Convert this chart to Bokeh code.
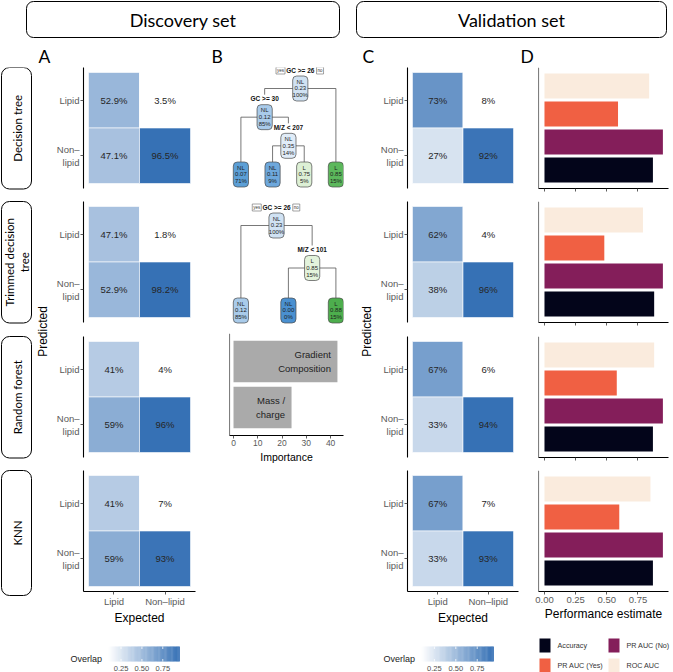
import math
from bokeh.plotting import figure
from bokeh.models import (Range1d, FactorRange, ColumnDataSource, LinearColorMapper,
                          FixedTicker, PrintfTickFormatter, CustomJSTickFormatter, Label, Span)
from bokeh.layouts import row, column
from bokeh.transform import transform
from bokeh.core.properties import value
from bokeh.embed import file_html
from bokeh.resources import INLINE

# ---------------- data ----------------
model_labels = ["Decision tree", "Trimmed decision\ntree", "Random forest", "KNN"]
expected_classes = ["Lipid", "Non\u2013lipid"]
predicted_classes = ["Lipid", "Non\u2013\nlipid"]

disc_lipid_pred_lipid = [52.9, 47.1, 41, 41]
disc_lipid_pred_nonlipid = [47.1, 52.9, 59, 59]
disc_nonlipid_pred_lipid = [3.5, 1.8, 4, 7]
disc_nonlipid_pred_nonlipid = [96.5, 98.2, 96, 93]
disc_decimals = [1, 1, 0, 0]

val_lipid_pred_lipid = [73, 62, 67, 67]
val_lipid_pred_nonlipid = [27, 38, 33, 33]
val_nonlipid_pred_lipid = [8, 4, 6, 7]
val_nonlipid_pred_nonlipid = [92, 96, 94, 93]
val_decimals = [0, 0, 0, 0]

metrics = ["Accuracy", "PR AUC (No)", "PR AUC (Yes)", "ROC AUC"]
accuracy = [0.87, 0.88, 0.87, 0.87]
pr_auc_no = [0.95, 0.95, 0.95, 0.95]
pr_auc_yes = [0.59, 0.48, 0.58, 0.60]
roc_auc = [0.84, 0.79, 0.88, 0.85]
perf_ticks = [0, 0.25, 0.5, 0.75]

features = ["Mass / charge", "Gradient Composition"]
feature_labels = ["Mass /\ncharge", "Gradient\nComposition"]
importance = [23.9, 42.8]
importance_ticks = [0, 10, 20, 30, 40]

overlap_ticks = [0.25, 0.5, 0.75]
overlap_limits_disc = [0.10, 0.95]
overlap_limits_val = [0.10, 0.94]

# decision trees (rpart node numbering: children of n are 2n and 2n+1)
tree1_node = [1, 2, 4, 5, 10, 11, 3]
tree1_class = ["NL", "NL", "NL", "NL", "NL", "L", "L"]
tree1_prob = [0.23, 0.12, 0.07, 0.35, 0.11, 0.75, 0.85]
tree1_pct = [100, 85, 71, 14, 9, 5, 15]
tree1_split = ["GC >= 26", "GC >= 30", "", "M/Z < 207", "", "", ""]

tree2_node = [1, 2, 3, 6, 7]
tree2_class = ["NL", "NL", "L", "NL", "L"]
tree2_prob = [0.23, 0.12, 0.85, 0.00, 0.88]
tree2_pct = [100, 85, 15, 0, 15]
tree2_split = ["GC >= 26", "", "M/Z < 101", "", ""]

# ---------------- styles ----------------
tree1_fill = ["#d0e2f3", "#a9cbea", "#5c9fd6", "#e0ecf8", "#6ea8dc", "#ddf0d5", "#5cb85c"]
tree2_fill = ["#d0e2f3", "#a9cbea", "#e3f3dc", "#4a90d0", "#4dae4d"]
metric_colors = {"Accuracy": "#03051A", "PR AUC (No)": "#841E5A",
                 "PR AUC (Yes)": "#F06043", "ROC AUC": "#FAEBDD"}
GG = "Liberation Sans"
PPT = "Lato"


def R(v):
    return int(round(v))


def size(a, b):
    return R(b) - R(a)


def F(v):
    return f"{v:.2f}px"


def blues(n=256, lo=(255, 255, 255), hi=(0x36, 0x71, 0xB5)):
    out = []
    for i in range(n):
        t = i / (n - 1)
        c = [round(lo[j] + (hi[j] - lo[j]) * t) for j in range(3)]
        out.append("#%02x%02x%02x" % tuple(c))
    return out


PAL = blues()
mapperA = LinearColorMapper(palette=PAL, low=overlap_limits_disc[0], high=overlap_limits_disc[1])
mapperC = LinearColorMapper(palette=PAL, low=overlap_limits_val[0], high=overlap_limits_val[1])

ROWB = [67, 201, 336, 470, 630]
FRAME_H = 121


def clean(p):
    p.outline_line_color = None
    p.background_fill_color = "white"
    p.border_fill_color = "white"
    for g in p.grid:
        g.visible = False
    return p


def canvas(x0, x1, y0, y1):
    p = figure(width=size(x0, x1), height=size(y0, y1), x_range=Range1d(x0, x1),
               y_range=Range1d(y1, y0), x_axis_location=None, y_axis_location=None,
               output_backend="svg", toolbar_location=None, min_border=0, title=None)
    return clean(p)


def style_axis(ax, label_size=9.5):
    ax.axis_line_color = "black"
    ax.axis_line_width = 1.1
    ax.major_tick_line_color = "#333333"
    ax.major_tick_line_width = 0.8
    ax.major_tick_in = 0
    ax.major_tick_out = 3
    ax.minor_tick_line_color = None
    ax.major_label_text_font = GG
    ax.major_label_text_font_size = F(label_size)
    ax.major_label_text_color = "#5a5a5a"
    ax.major_label_standoff = 1
    ax.axis_label_text_font = GG
    ax.axis_label_text_font_style = "normal"
    ax.axis_label_text_color = "black"
    ax.axis_label_text_font_size = F(12)
    ax.axis_label_standoff = 1


def left_line(p, x):
    p.add_layout(Span(location=x, dimension="height", line_color="black", line_width=1.1))


# ---------------- header ----------------
header = canvas(0, 673, 0, 67)
header.quad(left=[26, 356], right=[339, 666], top=[1, 1], bottom=[37, 37],
            fill_color=None, line_color="black", line_width=1.0, border_radius=7)
header.text(x=[182.5, 511], y=[19.5, 19.5], text=["Discovery set", "Validation set"],
            text_align="center", text_baseline="middle", text_font=value(PPT),
            text_font_size=F(18), text_color="black")
header.text(x=[38, 211, 362, 520], y=[66.5, 66.5, 66.5, 66.5], text=["A", "B", "C", "D"],
            text_align="left", text_baseline="bottom", text_font=value(PPT),
            text_font_size=F(17.5), text_color="black")

# ---------------- strips + predicted label (left) ----------------
strip = canvas(0, 50, 67, 630)
s_top = [ROWB[r] for r in range(4)]
s_bot = [ROWB[r] + FRAME_H + (4 if r == 3 else 0.5) for r in range(4)]
strip.quad(left=[1] * 4, right=[31] * 4, top=s_top, bottom=s_bot, fill_color=None,
           line_color="black", line_width=1.0, border_radius=8)
strip.text(x=[16.5] * 4, y=[(a + b) / 2 for a, b in zip(s_top, s_bot)], text=model_labels,
           angle=math.pi / 2, text_align="center", text_baseline="middle",
           text_font=value(PPT), text_font_size=F(11.5), text_color="black")
strip.text(x=[42], y=[331], text=["Predicted"], angle=math.pi / 2, text_align="center",
           text_baseline="middle", text_font=value(GG), text_font_size=F(12), text_color="black")

predC = canvas(355, 375, 67, 630)
predC.text(x=[366], y=[331], text=["Predicted"], angle=math.pi / 2, text_align="center",
           text_baseline="middle", text_font=value(GG), text_font_size=F(12), text_color="black")


# ---------------- heatmaps ----------------
def heatmap(x0, x1, fl, fr, r, ll, ln, nl, nn, dec, mapper):
    y0, y1 = ROWB[r], ROWB[r + 1]
    ft, fb = y0, y0 + FRAME_H
    bottom = (r == 3)
    p = figure(width=size(x0, x1), height=size(y0, y1),
               x_range=FactorRange(*expected_classes, range_padding=0.098),
               y_range=FactorRange(*predicted_classes[::-1], range_padding=0.09),
               x_axis_location="below" if bottom else None, y_axis_location="left",
               min_border_left=R(fl) - R(x0), min_border_right=R(x1) - R(fr),
               min_border_top=R(ft) - R(y0), min_border_bottom=R(y1) - R(fb),
               output_backend="svg", toolbar_location=None, title=None)
    clean(p)
    vals = [ll[r], ln[r], nl[r], nn[r]]
    fmt = "{:.%df}%%" % dec[r]
    e0, e1 = expected_classes
    q0, q1 = predicted_classes
    src = ColumnDataSource(dict(expected=[e0, e0, e1, e1], predicted=[q0, q1, q0, q1],
                                v=[x / 100 for x in vals],
                                label=[fmt.format(x) for x in vals]))
    p.rect(x="expected", y="predicted", width=1, height=1, source=src,
           fill_color=transform("v", mapper), line_color="white", line_width=0.6)
    p.text(x="expected", y="predicted", text="label", source=src, text_align="center",
           text_baseline="middle", text_font=value(GG), text_font_size=F(9.5),
           text_color="#262626")
    style_axis(p.yaxis[0])
    if bottom:
        style_axis(p.xaxis[0])
        p.xaxis[0].axis_label = "Expected"
    return p


colA = column([heatmap(50, 205, 83, 195, r, disc_lipid_pred_lipid, disc_lipid_pred_nonlipid,
                       disc_nonlipid_pred_lipid, disc_nonlipid_pred_nonlipid, disc_decimals,
                       mapperA) for r in range(4)], spacing=0)

colC = column([heatmap(375, 520, 407, 518, r, val_lipid_pred_lipid, val_lipid_pred_nonlipid,
                       val_nonlipid_pred_lipid, val_nonlipid_pred_nonlipid, val_decimals,
                       mapperC) for r in range(4)], spacing=0)


# ---------------- trees ----------------
def tree_fig(y0, y1, nodes, cls, prob, pct, split, fills, y_root, y_leaf,
             x_left=220, x_right=345, w=20, h=25):
    p = canvas(205, 355, y0, y1)
    ids = set(nodes)
    idx = {n: i for i, n in enumerate(nodes)}

    def is_leaf(n):
        return (2 * n) not in ids

    leaves = []

    def inorder(n):
        if n not in ids:
            return
        if is_leaf(n):
            leaves.append(n)
        else:
            inorder(2 * n)
            inorder(2 * n + 1)

    inorder(1)
    xs = {}
    for i, n in enumerate(leaves):
        xs[n] = x_left + (x_right - x_left) * i / (len(leaves) - 1)

    def setx(n):
        if n in xs:
            return xs[n]
        xs[n] = (setx(2 * n) + setx(2 * n + 1)) / 2
        return xs[n]

    setx(1)
    depth = {n: int(math.floor(math.log2(n))) for n in nodes}
    maxd = max(depth[n] for n in leaves)
    ys = {}
    for n in nodes:
        if is_leaf(n):
            ys[n] = y_leaf
        else:
            ys[n] = y_root + (y_leaf - y_root) * depth[n] / maxd

    sx0, sy0, sx1, sy1 = [], [], [], []
    for n in nodes:
        if is_leaf(n):
            continue
        l, r_ = 2 * n, 2 * n + 1
        sx0.append(xs[l]); sy0.append(ys[n]); sx1.append(xs[r_]); sy1.append(ys[n])
        for c in (l, r_):
            yend = ys[c] - h / 2
            if split[idx[c]]:
                yend -= 10
            sx0.append(xs[c]); sy0.append(ys[n]); sx1.append(xs[c]); sy1.append(yend)
    p.segment(x0=sx0, y0=sy0, x1=sx1, y1=sy1, line_color="#555555", line_width=0.8)

    X = [xs[n] for n in nodes]
    Y = [ys[n] for n in nodes]
    p.quad(left=[x - w / 2 for x in X], right=[x + w / 2 for x in X],
           top=[y - h / 2 for y in Y], bottom=[y + h / 2 for y in Y],
           fill_color=fills, line_color="#4a4a4a", line_width=0.7, border_radius=4)
    txt = [f"{c}\n{pr:.2f}\n{pc}%" for c, pr, pc in zip(cls, prob, pct)]
    p.text(x=X, y=Y, text=txt, text_align="center", text_baseline="middle",
           text_font=value(GG), text_font_size=F(6.0), text_color="#1e1e1e",
           text_line_height=1.15)
    sxl = [xs[n] for n in nodes if split[idx[n]]]
    syl = [ys[n] - h / 2 - 2.5 for n in nodes if split[idx[n]]]
    stx = [split[idx[n]] for n in nodes if split[idx[n]]]
    p.text(x=sxl, y=syl, text=stx, text_align="center", text_baseline="bottom",
           text_font=value(GG), text_font_size=F(6.5), text_font_style="bold",
           text_color="#111111")
    yy = ys[1] - h / 2 - 5.5
    for dx, t in ((-26, "yes"), (26, "no")):
        p.add_layout(Label(x=xs[1] + dx, y=yy, text=t, text_align="center",
                           text_baseline="middle", text_font=GG, text_font_size=F(4.5),
                           text_color="#333333", border_line_color="#666666",
                           border_line_width=0.6, background_fill_color="white",
                           padding=1))
    return p


tree1 = tree_fig(67, 201, tree1_node, tree1_class, tree1_prob, tree1_pct, tree1_split,
                 tree1_fill, 88, 174)
tree2 = tree_fig(201, 330, tree2_node, tree2_class, tree2_prob, tree2_pct, tree2_split,
                 tree2_fill, 225, 310)

# ---------------- importance ----------------
imp = figure(width=size(205, 355), height=size(330, 630),
             x_range=Range1d(-1.65, 45.3), y_range=FactorRange(*features, range_padding=0.109),
             y_axis_location=None,
             min_border_left=R(229) - R(205), min_border_right=R(355) - R(343),
             min_border_top=R(333) - R(330), min_border_bottom=R(630) - R(435),
             output_backend="svg", toolbar_location=None, title=None)
clean(imp)
isrc = ColumnDataSource(dict(f=features, v=importance, lab=feature_labels))
imp.hbar(y="f", left=0, right="v", height=0.9, source=isrc, fill_color="#aaaaaa",
         line_color=None)
imp.text(x="v", y="f", text="lab", source=isrc, x_offset=-6.5, text_align="right",
         text_baseline="middle", text_font=value(GG), text_font_size=F(9.5),
         text_color="#222222", text_line_height=1.25)
style_axis(imp.xaxis[0], 8.5)
imp.xaxis[0].ticker = FixedTicker(ticks=importance_ticks)
imp.xaxis[0].axis_label = "Importance"
imp.xaxis[0].axis_label_text_font_size = F(10.5)
imp.xaxis[0].axis_label_standoff = 2
left_line(imp, -1.65)

colB = column([tree1, tree2, imp], spacing=0)


# ---------------- performance bars ----------------
def bars(r):
    y0, y1 = ROWB[r], ROWB[r + 1]
    ft, fb = y0, y0 + FRAME_H
    bottom = (r == 3)
    p = figure(width=size(520, 673), height=size(y0, y1),
               x_range=Range1d(-0.048, 0.995), y_range=FactorRange(*metrics, range_padding=0.08),
               y_axis_location=None,
               min_border_left=R(538) - R(520), min_border_right=R(673) - R(668),
               min_border_top=R(ft) - R(y0), min_border_bottom=R(y1) - R(fb),
               output_backend="svg", toolbar_location=None, title=None)
    clean(p)
    vals = [accuracy[r], pr_auc_no[r], pr_auc_yes[r], roc_auc[r]]
    src = ColumnDataSource(dict(m=metrics, v=vals, c=[metric_colors[m] for m in metrics]))
    p.hbar(y="m", left=0, right="v", height=0.9, source=src, fill_color="c", line_color=None)
    ax = p.xaxis[0]
    style_axis(ax)
    ax.ticker = FixedTicker(ticks=perf_ticks)
    if bottom:
        ax.formatter = PrintfTickFormatter(format="%.2f")
        ax.axis_label = "Performance estimate"
        ax.major_label_standoff = 2
    else:
        ax.formatter = CustomJSTickFormatter(code="return ''")
        ax.major_label_standoff = 0
    left_line(p, -0.048)
    return p


colD = column([bars(r) for r in range(4)], spacing=0)

# ---------------- footer: legends ----------------
footer = canvas(0, 673, 630, 672)


def overlap_legend(p, bar_x, title_x, limits, mapper, bar_w, nbin=60):
    lo, hi = limits

    def sx(v):
        return bar_x + (v - lo) / (hi - lo) * bar_w

    edges = [lo + (hi - lo) * i / nbin for i in range(nbin + 1)]
    mids = [(a + b) / 2 for a, b in zip(edges[:-1], edges[1:])]
    src = ColumnDataSource(dict(l=[sx(e) for e in edges[:-1]],
                                r=[sx(e) + 0.4 for e in edges[1:]], m=mids))
    p.quad(left="l", right="r", top=646, bottom=661, source=src,
           fill_color=transform("m", mapper), line_color=None)
    tx = [sx(t) for t in overlap_ticks]
    p.segment(x0=tx, y0=[646] * 3, x1=tx, y1=[648.5] * 3, line_color="white", line_width=0.8)
    p.segment(x0=tx, y0=[658.5] * 3, x1=tx, y1=[661] * 3, line_color="white", line_width=0.8)
    p.text(x=tx, y=[668] * 3, text=["%.2f" % t for t in overlap_ticks], text_align="center",
           text_baseline="middle", text_font=value(GG), text_font_size=F(7.5),
           text_color="#4d4d4d")
    p.text(x=[title_x], y=[658], text=["Overlap"], text_align="left", text_baseline="middle",
           text_font=value(GG), text_font_size=F(9), text_color="#222222")


overlap_legend(footer, 108, 70, overlap_limits_disc, mapperA, 71)
overlap_legend(footer, 421, 383, overlap_limits_val, mapperC, 72)

# performance legend (2 x 2, filled by row)
leg_cols = [539, 608]
leg_rows = [645, 665]
lx = [leg_cols[i % 2] for i in range(len(metrics))]
ly = [leg_rows[i // 2] for i in range(len(metrics))]
footer.quad(left=lx, right=[x + 11 for x in lx], top=[y - 7 for y in ly],
            bottom=[y + 7 for y in ly], fill_color=[metric_colors[m] for m in metrics],
            line_color=None)
footer.text(x=[x + 18 for x in lx], y=ly, text=metrics, text_align="left",
            text_baseline="middle", text_font=value(GG), text_font_size=F(7.2),
            text_color="#333333")

body = row([strip, colA, colB, predC, colC, colD], spacing=0)
page = column([header, body, footer], spacing=0)

open("out.html", "w").write(file_html(page, INLINE))
